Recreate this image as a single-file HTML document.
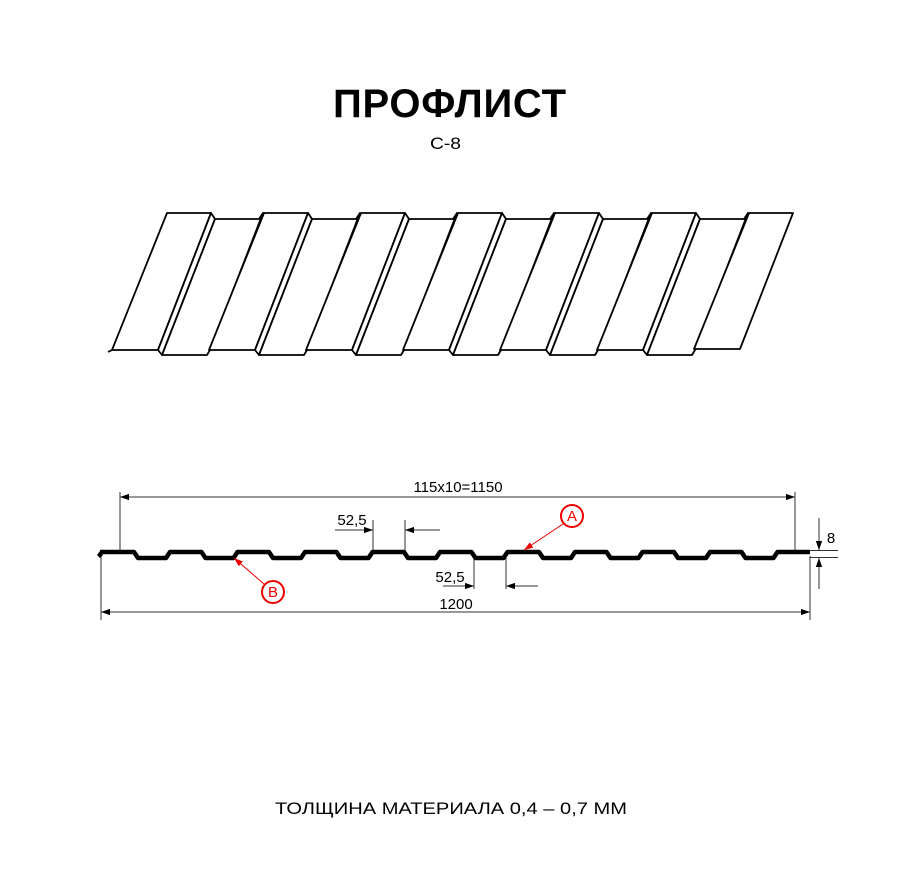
<!DOCTYPE html>
<html><head><meta charset="utf-8"><style>
html,body{margin:0;padding:0;background:#fff;}
svg{display:block;}
</style></head><body>
<svg width="900" height="873" viewBox="0 0 900 873" xmlns="http://www.w3.org/2000/svg">
<defs>
<g id="per" fill="none" stroke="#000" stroke-width="1.8" stroke-linejoin="round">
<polygon points="167,213 211,213 158,350 112,350" fill="#fff"/>
<polygon points="211,213 215,219 162,355 158,350" fill="#fff"/>
<polygon points="215,219 259,219 263,213 210,350 207,355 162,355" fill="#fff"/>
</g>
<marker id="ar" viewBox="0 0 10 10" refX="10" refY="5" markerWidth="9" markerHeight="9" markerUnits="userSpaceOnUse" orient="auto-start-reverse"><path d="M0,1.5 L10,5 L0,8.5 z" fill="#000"/></marker>
<marker id="arr" viewBox="0 0 10 10" refX="10" refY="5" markerWidth="9" markerHeight="9" markerUnits="userSpaceOnUse" orient="auto"><path d="M0,1.5 L10,5 L0,8.5 z" fill="#e00"/></marker>
</defs>
<text x="333" y="117" textLength="233" lengthAdjust="spacing" font-family="Liberation Sans, sans-serif" font-weight="bold" font-size="40">ПРОФЛИСТ</text>
<text x="430" y="149" textLength="31" lengthAdjust="spacingAndGlyphs" font-family="Liberation Sans, sans-serif" font-size="17">С-8</text>

<use href="#per"/>
<use href="#per" x="97"/>
<use href="#per" x="194"/>
<use href="#per" x="291"/>
<use href="#per" x="388"/>
<use href="#per" x="485"/>
<polygon points="749,213 793,213 740,349 694,349" fill="#fff" stroke="#000" stroke-width="1.8" stroke-linejoin="round"/>
<line x1="108" y1="352" x2="112" y2="350" stroke="#000" stroke-width="1.8"/>

<g stroke="#333" stroke-width="1" fill="none">
<line x1="120" y1="497" x2="795" y2="497" marker-start="url(#ar)" marker-end="url(#ar)" />
<line x1="120" y1="492" x2="120" y2="551"/>
<line x1="795" y1="492" x2="795" y2="551"/>
<line x1="101" y1="612" x2="810" y2="612" marker-start="url(#ar)" marker-end="url(#ar)"/>
<line x1="101" y1="556" x2="101" y2="620"/>
<line x1="810" y1="556" x2="810" y2="620"/>
<line x1="373" y1="520" x2="373" y2="551"/>
<line x1="405" y1="520" x2="405" y2="551"/>
<line x1="335" y1="530" x2="373" y2="530" marker-end="url(#ar)"/>
<line x1="440" y1="530" x2="405" y2="530" marker-end="url(#ar)"/>
<line x1="474" y1="558" x2="474" y2="589"/>
<line x1="506" y1="558" x2="506" y2="589"/>
<line x1="443" y1="586" x2="474" y2="586" marker-end="url(#ar)"/>
<line x1="538" y1="586" x2="506" y2="586" marker-end="url(#ar)"/>
<line x1="810" y1="550.5" x2="838" y2="550.5"/>
<line x1="810" y1="557.5" x2="838" y2="557.5"/>
<line x1="819" y1="518" x2="819" y2="550" marker-end="url(#ar)"/>
<line x1="819" y1="589" x2="819" y2="558" marker-end="url(#ar)"/>
</g>
<path d="M100,552 L134,552 L138,558 L166,558 L170,552 L201.5,552 L205.5,558 L233.5,558 L237.5,552 L269,552 L273,558 L301,558 L305,552 L336.5,552 L340.5,558 L368.5,558 L372.5,552 L404,552 L408,558 L436,558 L440,552 L471.5,552 L475.5,558 L503.5,558 L507.5,552 L539,552 L543,558 L571,558 L575,552 L606.5,552 L610.5,558 L638.5,558 L642.5,552 L674,552 L678,558 L706,558 L710,552 L741.5,552 L745.5,558 L773.5,558 L777.5,552 L810,552" fill="none" stroke="#000" stroke-width="4.5" stroke-linejoin="round"/>
<path d="M97,555 L100,551 L103,555 L100,558 z" fill="#000"/>
<g font-family="Liberation Sans, sans-serif" font-size="15" fill="#000">
<text x="458" y="492" text-anchor="middle">115x10=1150</text>
<text x="456" y="609" text-anchor="middle">1200</text>
<text x="352" y="525" text-anchor="middle">52,5</text>
<text x="450" y="582" text-anchor="middle">52,5</text>
<text x="831" y="543" text-anchor="middle">8</text>
</g>
<g stroke="#e00" fill="none">
<circle cx="572" cy="516" r="11" stroke-width="2"/>
<line x1="563" y1="524" x2="524" y2="550" stroke-width="1" marker-end="url(#arr)"/>
<circle cx="273" cy="592" r="11" stroke-width="2"/>
<line x1="264" y1="584" x2="234" y2="558" stroke-width="1" marker-end="url(#arr)"/>
</g>
<g font-family="Liberation Sans, sans-serif" font-size="15" fill="#e00" text-anchor="middle">
<text x="572" y="521">A</text>
<text x="273" y="597">B</text>
</g>
<text x="275" y="814" textLength="352" lengthAdjust="spacingAndGlyphs" font-family="Liberation Sans, sans-serif" font-size="17">ТОЛЩИНА МАТЕРИАЛА 0,4 – 0,7 ММ</text>
</svg>
</body></html>
